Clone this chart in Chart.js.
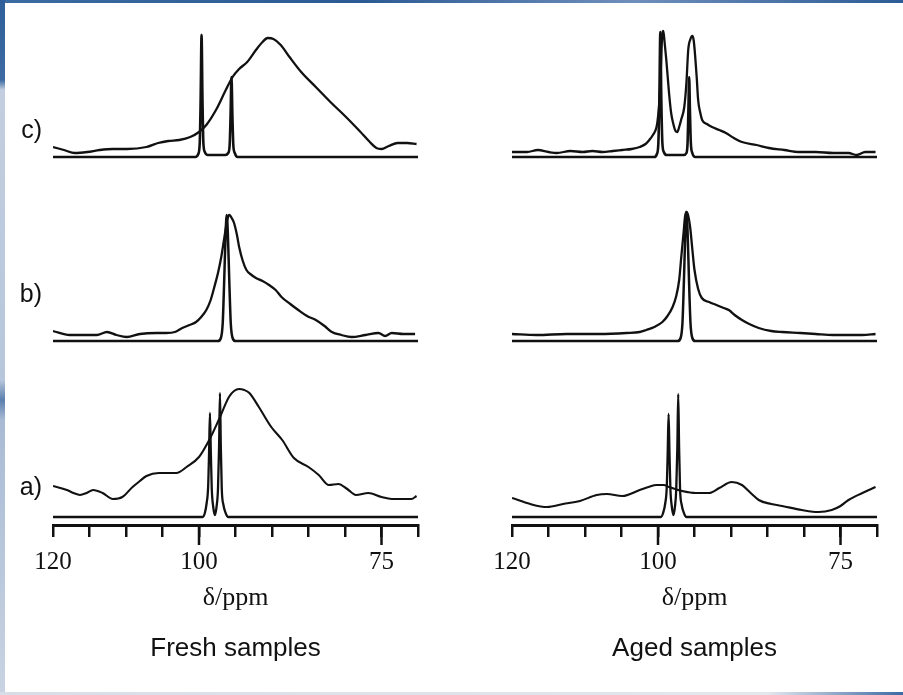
<!DOCTYPE html>
<html>
<head>
<meta charset="utf-8">
<script src="https://cdn.jsdelivr.net/npm/chart.js@4.4.1/dist/chart.umd.min.js"></script>
<style>
  body { margin: 0; background: #fff; }
  #page { position: relative; width: 903px; height: 695px; overflow: hidden; background: #fff; }
  #topStrip { position: absolute; left: 0; top: 0; width: 903px; height: 3px;
    background: linear-gradient(to right, #3c6aa3, #2b5a94 40%, #6f8fbb 70%, #2c5c96); }
  #leftStrip { position: absolute; left: 0; top: 0; width: 5px; height: 695px;
    background: linear-gradient(to bottom, #2f5f99 0, #3d6aa2 80px, #c3cfe0 90px, #b7c6db 380px, #5c7fae 400px, #a9bbd4 420px, #c9d3e2 695px); }
  #bottomStrip { position: absolute; left: 0; top: 692px; width: 903px; height: 3px;
    background: linear-gradient(to right, #d8dee8, #e3e7ee 85%, #3d6aa3); }
  .panel { position: absolute; top: 0; }
</style>
</head>
<body>
<div id="page">
  <div id="topStrip"></div>
  <div id="leftStrip"></div>
  <div id="bottomStrip"></div>
  <canvas id="freshChart" class="panel" width="450" height="695" style="left:0"></canvas>
  <canvas id="agedChart" class="panel" width="453" height="695" style="left:450px"></canvas>
</div>
<script>
// axis ticks (ppm)
const tickValues = [120, 115, 110, 105, 100, 95, 90, 85, 80, 75, 70];
const tickLabels = [120, 100, 75];
const majorTicks = [100, 75];

// row labels on the left panel
const rowLabels = ["a)", "b)", "c)"];
const rowLabelValues = [37, 230, 394];

// vertical offset of each row (a, b, c)
const rowOffsets = [8, 184, 368];

// ---- fresh samples ----
const freshSharpA_ppm = [120, 99.5, 99.2, 98.95, 98.75, 98.62, 98.5, 98.38, 98.25, 98.05, 97.82, 97.6, 97.4, 97.25, 97.13, 97.01, 96.88, 96.65, 96.35, 96.0, 70];
const freshSharpA = [0, 0, 4, 14, 30, 65, 104, 65, 28, 10, 2, 10, 28, 70, 124, 70, 28, 12, 4, 0, 0];
const freshBroadA_ppm = [120, 118.1, 117.2, 116.3, 115.4, 114.5, 113.2, 111.8, 110.5, 109.1, 108.1, 107.2, 105.5, 104.3, 103.1, 101.7, 100.0, 98.6, 97.3, 95.9, 95.2, 94.5, 93.8, 93.1, 91.8, 90.1, 88.6, 87.0, 85.0, 83.6, 82.2, 80.9, 79.7, 78.5, 76.8, 75.0, 73.6, 72.2, 70.9, 70.2];
const freshBroadA = [31, 27, 24, 22, 24, 27, 24, 18, 20, 30, 36, 41, 44, 44, 44, 50, 60, 77, 97, 120, 126, 128, 127, 124, 110, 90, 77, 59, 50, 42, 32, 33, 28, 22, 24, 20, 18, 18, 18, 21];

const freshSharpB_ppm = [120, 97.4, 97.0, 96.75, 96.55, 96.35, 96.2, 96.05, 95.85, 95.65, 95.4, 95.0, 70];
const freshSharpB = [0, 0, 3, 18, 60, 108, 126, 108, 60, 18, 3, 0, 0];
const freshBroadB_ppm = [120, 117.7, 116.0, 114.0, 112.6, 111.3, 109.9, 108.1, 105.8, 104.5, 103.3, 102.3, 101.3, 100.4, 99.7, 99.0, 98.4, 97.9, 97.4, 96.95, 96.6, 96.3, 96.1, 95.86, 95.6, 95.2, 94.8, 94.5, 94.0, 93.5, 92.8, 92.2, 91.3, 90.4, 89.5, 88.7, 87.5, 86.4, 85.2, 84.0, 82.8, 81.8, 80.5, 79.1, 77.2, 75.4, 74.5, 73.6, 72.0, 70.4];
const freshBroadB = [10, 6, 6, 6, 9, 6, 4, 7, 8, 8, 9, 13, 16, 19, 24, 31, 41, 54, 68, 84, 100, 114, 122, 126, 124, 118, 106, 94, 80, 71, 66, 63, 60, 56, 51, 44, 37, 31, 25, 21, 15, 9, 6, 4, 6, 8, 5, 8, 7, 7];

const freshSharpC_ppm = [120, 100.5, 100.1, 99.9, 99.78, 99.65, 99.52, 99.4, 99.2, 98.8, 96.4, 96.0, 95.8, 95.68, 95.55, 95.42, 95.3, 95.1, 94.7, 70];
const freshSharpC = [0, 0, 3, 14, 55, 122, 55, 14, 5, 2, 2, 4, 12, 40, 80, 40, 12, 4, 0, 0];
const freshBroadC_ppm = [120, 118.5, 117.0, 115.3, 113.6, 111.8, 109.9, 107.2, 105.6, 104.2, 102.7, 101.2, 100.0, 99.0, 97.6, 96.4, 95.4, 94.5, 93.4, 92.2, 91.3, 90.6, 89.8, 88.8, 87.6, 86.0, 84.0, 82.0, 80.0, 78.0, 76.6, 75.7, 75.0, 74.0, 72.8, 71.5, 70.2];
const freshBroadC = [10, 7, 4, 5, 7, 8, 8, 10, 14, 16, 17, 20, 25, 32, 48, 66, 80, 88, 95, 107, 115, 119, 118, 112, 100, 85, 70, 55, 41, 26, 15, 9, 8, 11, 14, 14, 13];

// ---- aged samples ----
const agedSharpA_ppm = [120, 99.6, 99.3, 99.0, 98.8, 98.67, 98.55, 98.43, 98.3, 98.1, 97.88, 97.68, 97.5, 97.35, 97.23, 97.11, 96.98, 96.75, 96.45, 96.1, 70];
const agedSharpA = [0, 0, 4, 14, 30, 65, 103, 65, 28, 10, 2, 10, 28, 70, 123, 70, 28, 12, 4, 0, 0];
const agedBroadA_ppm = [120, 117.5, 115.2, 113.0, 110.7, 108.4, 107.0, 104.9, 102.5, 101.3, 100.2, 99.2, 98.5, 96.7, 94.8, 93.0, 91.6, 89.9, 88.5, 87.3, 86.2, 84.5, 83.0, 80.3, 78.0, 76.2, 75.0, 73.9, 72.0, 70.2];
const agedBroadA = [19, 13, 10, 13, 16, 22, 23, 21, 27, 30, 32, 32, 30, 26, 24, 24, 29, 35, 32, 24, 17, 13, 11, 7, 5, 7, 11, 17, 24, 30];

const agedSharpB_ppm = [120, 97.3, 96.9, 96.65, 96.45, 96.25, 96.1, 95.95, 95.75, 95.55, 95.3, 94.9, 70];
const agedSharpB = [0, 0, 3, 18, 60, 110, 129, 110, 60, 18, 3, 0, 0];
const agedBroadB_ppm = [120, 116.6, 112.5, 108.0, 104.3, 102.5, 101.6, 100.5, 99.4, 98.7, 98.0, 97.5, 97.1, 96.8, 96.5, 96.3, 96.1, 95.85, 95.6, 95.3, 95.0, 94.5, 94.0, 93.0, 92.0, 91.0, 90.3, 89.5, 88.5, 87.5, 86.2, 84.5, 83.0, 80.5, 78.4, 76.0, 73.9, 72.0, 70.2];
const agedBroadB = [7, 6, 7, 7, 8, 9, 11, 14, 19, 25, 34, 45, 61, 85, 108, 124, 129, 125, 114, 92, 71, 52, 43, 39, 36, 33, 31, 26, 21, 17, 13, 10, 9, 8, 7, 6, 6, 6, 7];

const agedSharpC_ppm = [120, 100.5, 100.15, 99.95, 99.82, 99.68, 99.54, 99.4, 99.2, 98.8, 96.5, 96.1, 95.95, 95.84, 95.73, 95.62, 95.5, 95.3, 94.9, 70];
const agedSharpC = [0, 0, 3, 14, 55, 125, 55, 14, 5, 2, 2, 4, 14, 45, 80, 45, 14, 4, 0, 0];
const agedBroadC_ppm = [120, 117.95, 116.45, 115.0, 113.86, 112.0, 110.3, 109.0, 107.6, 106.2, 104.9, 103.6, 102.5, 101.7, 101.2, 100.7, 100.2, 100.0, 99.8, 99.6, 99.4, 99.27, 99.1, 98.86, 98.5, 98.2, 97.9, 97.6, 97.35, 97.1, 96.8, 96.4, 96.1, 95.86, 95.55, 95.3, 95.1, 94.9, 94.7, 94.5, 94.2, 93.95, 93.3, 92.6, 91.6, 90.7, 89.6, 88.5, 86.5, 84.8, 82.7, 80.7, 78.4, 76.0, 73.9, 72.8, 71.6, 70.2];
const agedBroadC = [5, 5, 7, 5, 4, 6, 5, 6, 5, 6, 7, 8, 10, 13, 17, 22, 30, 40, 57, 90, 124, 126, 115, 97, 65, 44, 33, 26, 25, 30, 38, 50, 75, 107, 118, 121, 116, 100, 80, 57, 44, 37, 33, 30, 27, 24, 19, 15, 12, 9, 7, 5, 5, 4, 4, 2, 5, 5];

const ink = "#111";

const trace = (ppm, vals, row, width) => ({
  data: ppm.map((p, i) => ({ x: p, y: vals[i] + rowOffsets[row] })),
  borderColor: ink,
  borderWidth: width,
  pointRadius: 0,
  fill: false,
  cubicInterpolationMode: "monotone",
});

// longer tick marks at the labelled positions
const longTicks = {
  id: "longTicks",
  afterDraw(chart) {
    const xs = chart.scales.x;
    const ctx = chart.ctx;
    ctx.save();
    ctx.strokeStyle = ink;
    ctx.lineWidth = 2.5;
    majorTicks.forEach((v) => {
      const px = xs.getPixelForValue(v);
      ctx.beginPath();
      ctx.moveTo(px, xs.top);
      ctx.lineTo(px, xs.top + 20);
      ctx.stroke();
    });
    ctx.restore();
  },
};

const makeChart = (canvasId, datasets, caption, showRows, padding) => {
  return new Chart(document.getElementById(canvasId), {
    type: "line",
    data: { datasets },
    plugins: [longTicks],
    options: {
      responsive: false,
      animation: false,
      devicePixelRatio: 1,
      layout: { padding },
      plugins: { legend: { display: false }, tooltip: { enabled: false } },
      scales: {
        x: {
          type: "linear",
          reverse: true,
          min: 70,
          max: 120,
          weight: 0,
          afterBuildTicks: (s) => {
            s.ticks = tickValues.map((v) => ({ value: v }));
          },
          ticks: {
            autoSkip: false,
            maxRotation: 0,
            padding: 10,
            color: ink,
            font: { family: "Liberation Serif", size: 25 },
            callback: (v) => (tickLabels.includes(v) ? String(v) : ""),
          },
          grid: { drawOnChartArea: false, tickLength: 12, color: ink, lineWidth: 2.5 },
          border: { color: ink, width: 3 },
          title: {
            display: true,
            text: "δ/ppm",
            color: ink,
            font: { family: "Liberation Serif", size: 26 },
            padding: { top: 0, bottom: 6 },
          },
          afterFit: (s) => {
            s.height = 95;
          },
        },
        x2: {
          type: "linear",
          position: "bottom",
          reverse: true,
          min: 70,
          max: 120,
          weight: 1,
          ticks: { display: false },
          grid: { display: false },
          border: { display: false },
          title: {
            display: true,
            text: caption,
            color: ink,
            font: { family: "Liberation Sans", size: 26 },
            padding: { top: 0, bottom: 6 },
          },
          afterFit: (s) => {
            s.height = 50;
          },
        },
        y: {
          display: showRows,
          min: 0,
          max: 515,
          position: "left",
          grid: { display: false, drawTicks: false },
          border: { display: false },
          afterBuildTicks: (s) => {
            s.ticks = rowLabelValues.map((v) => ({ value: v }));
          },
          ticks: {
            autoSkip: false,
            padding: 11,
            color: ink,
            font: { family: "Liberation Sans", size: 25 },
            callback: (v) => rowLabels[rowLabelValues.indexOf(v)],
          },
          afterFit: (s) => {
            s.width = showRows ? 53 : 0;
            s.paddingTop = 0;
            s.paddingBottom = 0;
          },
        },
      },
    },
  });
};

makeChart(
  "freshChart",
  [
    trace(freshSharpA_ppm, freshSharpA, 0, 2.3),
    trace(freshBroadA_ppm, freshBroadA, 0, 2.1),
    trace(freshSharpB_ppm, freshSharpB, 1, 2.5),
    trace(freshBroadB_ppm, freshBroadB, 1, 2.3),
    trace(freshSharpC_ppm, freshSharpC, 2, 2.6),
    trace(freshBroadC_ppm, freshBroadC, 2, 2.3),
  ],
  "Fresh samples",
  true,
  { top: 10, bottom: 25, left: 0, right: 32 }
);

makeChart(
  "agedChart",
  [
    trace(agedSharpA_ppm, agedSharpA, 0, 2.3),
    trace(agedBroadA_ppm, agedBroadA, 0, 2.1),
    trace(agedSharpB_ppm, agedSharpB, 1, 2.5),
    trace(agedBroadB_ppm, agedBroadB, 1, 2.3),
    trace(agedSharpC_ppm, agedSharpC, 2, 2.6),
    trace(agedBroadC_ppm, agedBroadC, 2, 2.3),
  ],
  "Aged samples",
  false,
  { top: 10, bottom: 25, left: 62, right: 26 }
);
</script>
</body>
</html>
